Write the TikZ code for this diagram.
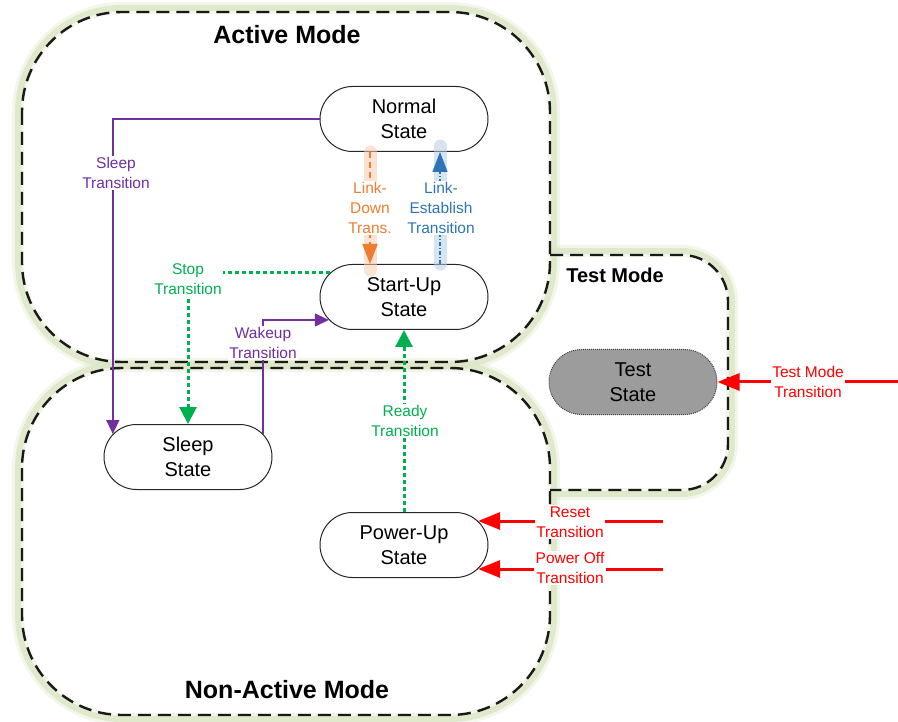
\documentclass[tikz,border=0pt]{standalone}
\usepackage{fontspec}
\setmainfont{Liberation Sans}
\usetikzlibrary{arrows.meta,shapes.misc}
\definecolor{glow}{HTML}{DCE6C6}
\definecolor{purp}{HTML}{7030A0}
\definecolor{grn}{HTML}{00B050}
\definecolor{org}{HTML}{ED7D31}
\definecolor{blu}{HTML}{2E75B6}
\definecolor{rd}{HTML}{FF0000}
\definecolor{testgray}{HTML}{9C9C9C}

\begin{document}
\begin{tikzpicture}[x=1pt,y=-1pt,
  modeglowwide/.style={draw=glow, line width=12pt, opacity=0.35, line join=round},
  modeglow/.style={draw=glow, line width=6pt, opacity=0.8, line join=round},
  modeedge/.style={draw=black!90, line width=2.4pt, dash pattern=on 13pt off 7pt},
  state/.style={rounded rectangle, draw=black!85, line width=1pt, fill=white,
    minimum width=168pt, minimum height=65pt, align=center, inner sep=0pt,
    font=\fontsize{20}{25}\selectfont},
  teststate/.style={state, fill=testgray, draw=black!75, densely dotted},
  modetitle/.style={font=\fontsize{25}{30}\selectfont\bfseries},
  lbl/.style={align=center, font=\fontsize{15.5}{20}\selectfont, fill=white, inner sep=1.5pt},
  purpline/.style={draw=purp, line width=1.5pt, -{Triangle[length=14pt,width=13pt]}},
  grnline/.style={draw=grn, line width=3pt, dash pattern=on 4pt off 3pt,
    -{Triangle[length=17pt,width=17pt]}},
  redline/.style={draw=rd, line width=3pt, -{Triangle[length=22pt,width=17pt]}},
  orgline/.style={draw=org, line width=2pt, dash pattern=on 6pt off 4pt,
    -{Triangle[length=20pt,width=15pt]}},
  bluline/.style={draw=blu, line width=1.5pt, dash pattern=on 4pt off 2pt on 1pt off 2pt,
    -{Triangle[length=20pt,width=15pt]}},
  orgglow/.style={draw=org!40, line width=13pt, line cap=round, opacity=0.55},
  bluglow/.style={draw=blu!35, line width=13pt, line cap=round, opacity=0.55},
]
\useasboundingbox (0,0) rectangle (898,722);

% mode outlines: a soft green halo just outside each edge
\foreach \sty in {modeglowwide,modeglow}{
  \path[\sty, rounded corners=104pt] (18,8) rectangle (554,366);
  \path[\sty, rounded corners=104pt] (18,364) rectangle (554,719);
  \path[\sty, rounded corners=50pt] (550,251) -- (732,251) -- (732,494) -- (550,494);
}
% the dashed edges themselves
\path[modeedge, rounded corners=100pt] (22,12) rectangle (550,362);
\path[modeedge, rounded corners=100pt] (22,368) rectangle (550,715);
\path[modeedge, rounded corners=46pt] (550,255) -- (728,255) -- (728,490) -- (550,490);

\node[modetitle] (activeT) at (287,35) {Active Mode};
\node[modetitle] (nonactiveT) at (287,690) {Non-Active Mode};
\node[modetitle, font=\fontsize{20}{24}\selectfont\bfseries] (testT) at (615,275) {Test Mode};

% states
\node[state] (Normal) at (404,119) {Normal\\State};
\node[state] (StartUp) at (404,297) {Start-Up\\State};
\node[state] (Sleep) at (188,457) {Sleep\\State};
\node[state] (PowerUp) at (404,545) {Power-Up\\State};
\node[teststate] (Test) at (633,382) {Test\\State};

% free ends of the incoming red transitions
\coordinate (resetSrc) at (663,521);
\coordinate (offSrc) at (663,569);
\coordinate (testSrc) at (898,382);

% link transitions with their glow
\path[orgglow] ([xshift=-34pt]Normal.south) -- ([xshift=-34pt,yshift=-6pt]StartUp.north);
\path[bluglow] ([xshift=36pt,yshift=6pt]Normal.south) -- ([xshift=36pt]StartUp.north);
\draw[orgline] ([xshift=-34pt]Normal.south) -- ([xshift=-34pt]StartUp.north);
\draw[bluline] ([xshift=36pt]StartUp.north) -- ([xshift=36pt]Normal.south);

% other transitions
\draw[purpline] (Normal.west) -| (Sleep.163);
\draw[purpline] (Sleep.17) |- (StartUp.197);
\draw[grnline] (StartUp.162) -| (Sleep.north);
\draw[grnline] (PowerUp.north) -- (StartUp.south);
\draw[redline] (resetSrc) -- (resetSrc -| PowerUp.18);
\draw[redline] (offSrc) -- (offSrc -| PowerUp.-18);
\draw[redline] (testSrc) -- (Test.east);

% transition labels
\node[lbl, text=purp] (sleepL) at (116,173) {Sleep\\Transition};
\node[lbl, text=org] (downL) at (370,208) {Link-\\Down\\Trans.};
\node[lbl, text=blu] (estL) at (441,208) {Link-\\Establish\\Transition};
\node[lbl, text=grn] (stopL) at (188,279) {Stop\\Transition};
\node[lbl, text=purp] (wakeL) at (263,343) {Wakeup\\Transition};
\node[lbl, text=grn] (readyL) at (405,421) {Ready\\Transition};
\node[lbl, text=rd] (resetL) at (570,522) {Reset\\Transition};
\node[lbl, text=rd] (offL) at (570,568) {Power Off\\Transition};
\node[lbl, text=rd] (testL) at (808,382) {Test Mode\\Transition};
\end{tikzpicture}
\end{document}
